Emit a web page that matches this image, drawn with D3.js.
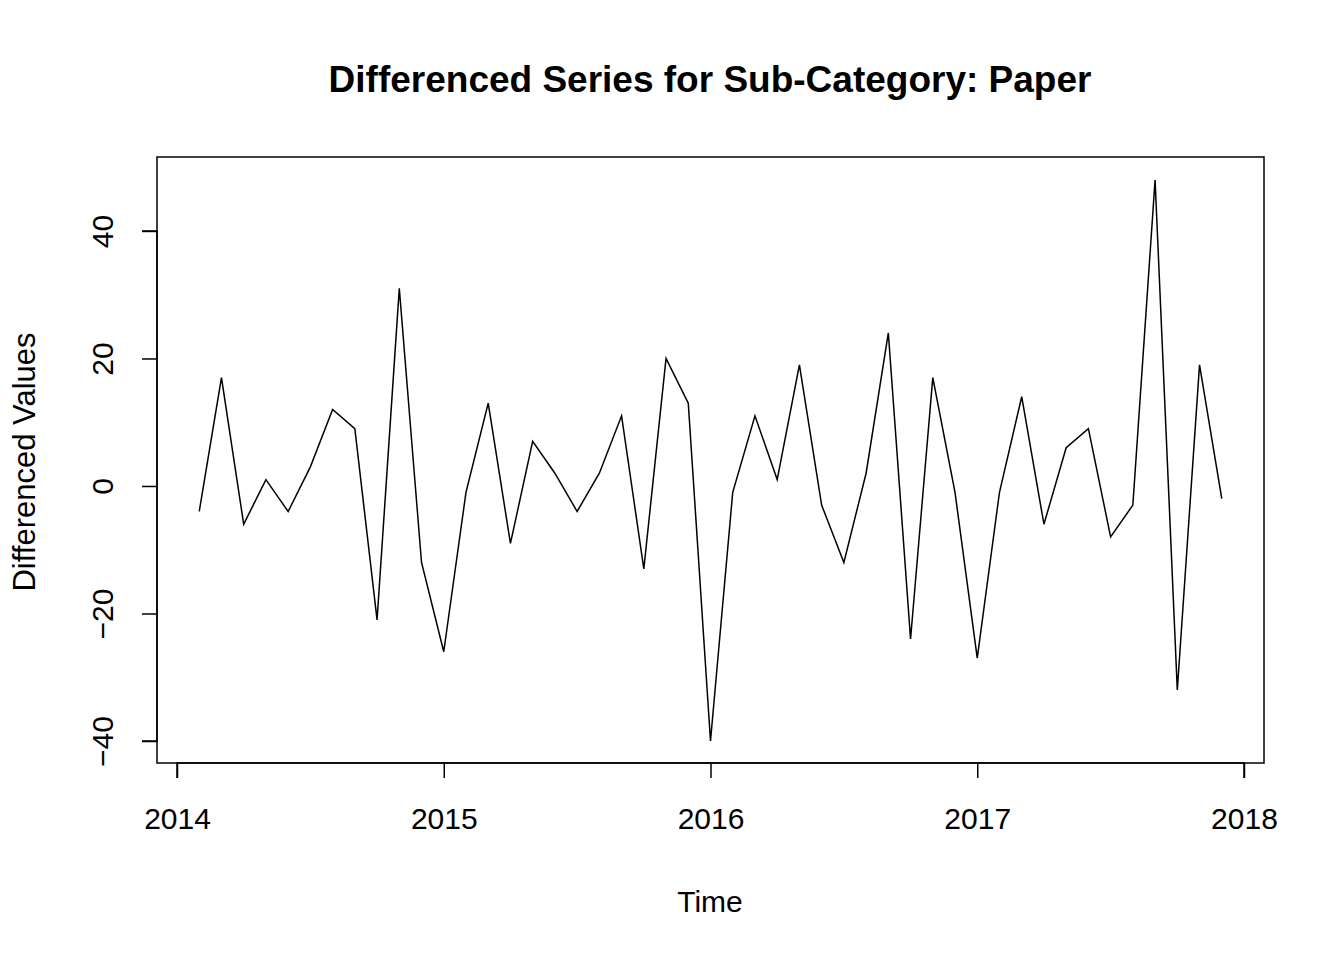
<!DOCTYPE html>
<html><head><meta charset="utf-8">
<script src="https://cdn.jsdelivr.net/npm/d3@7"></script>
<style>body{margin:0;background:#fff}</style>
</head><body>
<div id="chart"></div>
<script>
const startYear = 2014, startMonth = 2; // Feb 2014, monthly
const values = [-4,17,-6,1,-4,3,12,9,-21,31,-12,-26,-1,13,-9,7,2,-4,2,11,-13,20,13,-40,-1,11,1,19,-3,-12,2,24,-24,17,-1,-27,-1,14,-6,6,9,-8,-3,48,-32,19,-2];
const xTicks = [2014, 2015, 2016, 2017, 2018];
const yTicks = [-40, -20, 0, 20, 40];

const W = 1344, H = 960;
const box = {left: 157, right: 1264, top: 157, bottom: 763};
const font = "Liberation Sans, Arial, sans-serif";

const svg = d3.select("#chart").append("svg").attr("width", W).attr("height", H);

const x = d3.scaleLinear().domain([2013.925, 2018.075]).range([box.left, box.right]);
const y = d3.scaleLinear().domain([-43.45, 51.6]).range([box.bottom, box.top]);

const data = values.map((v, i) => ({t: startYear + (startMonth - 1 + i) / 12, v}));

svg.append("rect").attr("x", box.left).attr("y", box.top)
  .attr("width", box.right - box.left).attr("height", box.bottom - box.top)
  .attr("fill", "none").attr("stroke", "#000").attr("stroke-width", 1.5);

svg.append("path").datum(data)
  .attr("d", d3.line().x(d => x(d.t)).y(d => y(d.v)))
  .attr("fill", "none").attr("stroke", "#000").attr("stroke-width", 1.5);

// x axis
const xa = svg.append("g").attr("transform", `translate(0,${box.bottom})`)
  .call(d3.axisBottom(x).tickValues(xTicks).tickFormat(d3.format("d")).tickSize(15).tickPadding(30));
xa.select(".domain").attr("d", `M${x(2014)},15V0H${x(2018)}V15`).attr("stroke-width", 1.5);
xa.selectAll("line").attr("stroke-width", 1.5);
xa.selectAll("text").attr("font-size", 30).attr("font-family", font).attr("fill", "#000");

// y axis
const ya = svg.append("g").attr("transform", `translate(${box.left},0)`)
  .call(d3.axisLeft(y).tickValues(yTicks).tickSize(15).tickPadding(0));
ya.select(".domain").attr("d", `M-15,${y(-40)}H0V${y(40)}H-15`).attr("stroke-width", 1.5);
ya.selectAll("line").attr("stroke-width", 1.5);
ya.selectAll("text").attr("font-size", 30).attr("font-family", font).attr("fill", "#000")
  .attr("x", 0).attr("y", 0)
  .attr("text-anchor", "middle")
  .attr("transform", "translate(-55,0) rotate(-90)")
  .attr("dy", "0.35em");

svg.append("text").attr("x", 710).attr("y", 92).attr("text-anchor", "middle")
  .attr("font-family", font).attr("font-weight", "bold").attr("font-size", 37)
  .text("Differenced Series for Sub-Category: Paper");
svg.append("text").attr("x", 710).attr("y", 912).attr("text-anchor", "middle")
  .attr("font-family", font).attr("font-size", 30).text("Time");
svg.append("text").attr("transform", `translate(35,462) rotate(-90)`).attr("text-anchor", "middle")
  .attr("font-family", font).attr("font-size", 31).text("Differenced Values");
</script>
</body></html>
